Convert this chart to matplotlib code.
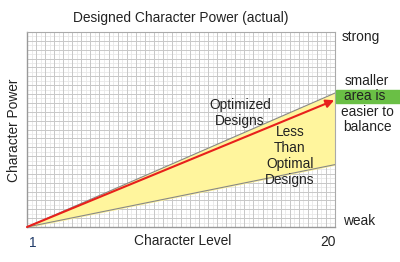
import numpy as np
import matplotlib
matplotlib.use('Agg')
import matplotlib.pyplot as plt

plt.rcParams['font.family'] = ['Liberation Sans', 'DejaVu Sans']

# data: character level vs designed power (0..100 scale)
levels = [1, 20]
upper_power = [0, 68.7]   # optimized designs edge
lower_power = [0, 32.0]   # less than optimal edge
actual_power = [0, 65.0]  # red arrow

fig = plt.figure(figsize=(4.0, 2.62), dpi=100)
ax = fig.add_axes([27/400, 1 - 227/262, 308/400, 195/262])
ax.set_xlim(1, 20)
ax.set_ylim(0, 100)

# graph paper grid
for x in np.linspace(1, 20, 69):
    ax.axvline(x, color='#e8e8e8', lw=0.6, zorder=0)
for y in np.linspace(0, 100, 45):
    ax.axhline(y, color='#e8e8e8', lw=0.6, zorder=0)
for x in np.linspace(1, 20, 35):
    ax.axvline(x, color='#c8c8c8', lw=0.7, zorder=0)
for y in np.linspace(0, 100, 23):
    ax.axhline(y, color='#c8c8c8', lw=0.7, zorder=0)

ax.fill_between(levels, lower_power, upper_power, color='#fff59d', zorder=1)
ax.plot(levels, upper_power, color='#888888', lw=0.8, zorder=2)
ax.plot(levels, lower_power, color='#888888', lw=0.8, zorder=2)
ax.annotate('', xy=(levels[1] - 0.05, actual_power[1]), xytext=(levels[0], actual_power[0]),
            arrowprops=dict(arrowstyle='-|>', color='#e8201c', lw=1.5,
                            mutation_scale=12, shrinkA=0, shrinkB=0), zorder=3)

ax.set_xticks([])
ax.set_yticks([])
for s in ['top', 'right']:
    ax.spines[s].set_color('#aaaaaa')
for s in ['left', 'bottom']:
    ax.spines[s].set_color('#999999')
    ax.spines[s].set_linewidth(1.0)

fs = 9.9
tc = '#222222'
fig.text(181/400, 1 - 18/262, 'Designed Character Power (actual)', ha='center', va='center', fontsize=fs, color=tc)
fig.text(14/400, 1 - 130/262, 'Character Power', ha='center', va='center', rotation=90, fontsize=fs, color=tc)
fig.text(183/400, 1 - 241/262, 'Character Level', ha='center', va='center', fontsize=fs, color=tc)
fig.text(33/400, 1 - 243/262, '1', ha='center', va='center', fontsize=fs, color='#1f3a68')
fig.text(328/400, 1 - 242/262, '20', ha='center', va='center', fontsize=fs, color=tc)
fig.text(342/400, 1 - 37/262, 'strong', ha='left', va='center', fontsize=fs, color=tc)
fig.text(343/400, 1 - 221/262, 'weak', ha='left', va='center', fontsize=fs, color=tc)

fig.patches.append(plt.Rectangle((336/400, 1 - 103/262), 64/400, 13/262,
                                 transform=fig.transFigure, color='#6abf45', zorder=0))
fig.text(367/400, 1 - 81/262, 'smaller', ha='center', va='center', fontsize=fs, color=tc)
fig.text(365/400, 1 - 96/262, 'area is', ha='center', va='center', fontsize=fs, color=tc)
fig.text(367/400, 1 - 112/262, 'easier to', ha='center', va='center', fontsize=fs, color=tc)
fig.text(367/400, 1 - 127/262, 'balance', ha='center', va='center', fontsize=fs, color=tc)

fig.text(240/400, 1 - 113/262, 'Optimized\nDesigns', ha='center', va='center', fontsize=fs,
         color=tc, linespacing=1.2)
fig.text(290/400, 1 - 156/262, 'Less\nThan\nOptimal\nDesigns', ha='center', va='center',
         fontsize=fs, color=tc, linespacing=1.2)

fig.savefig('out.png', dpi=100)
